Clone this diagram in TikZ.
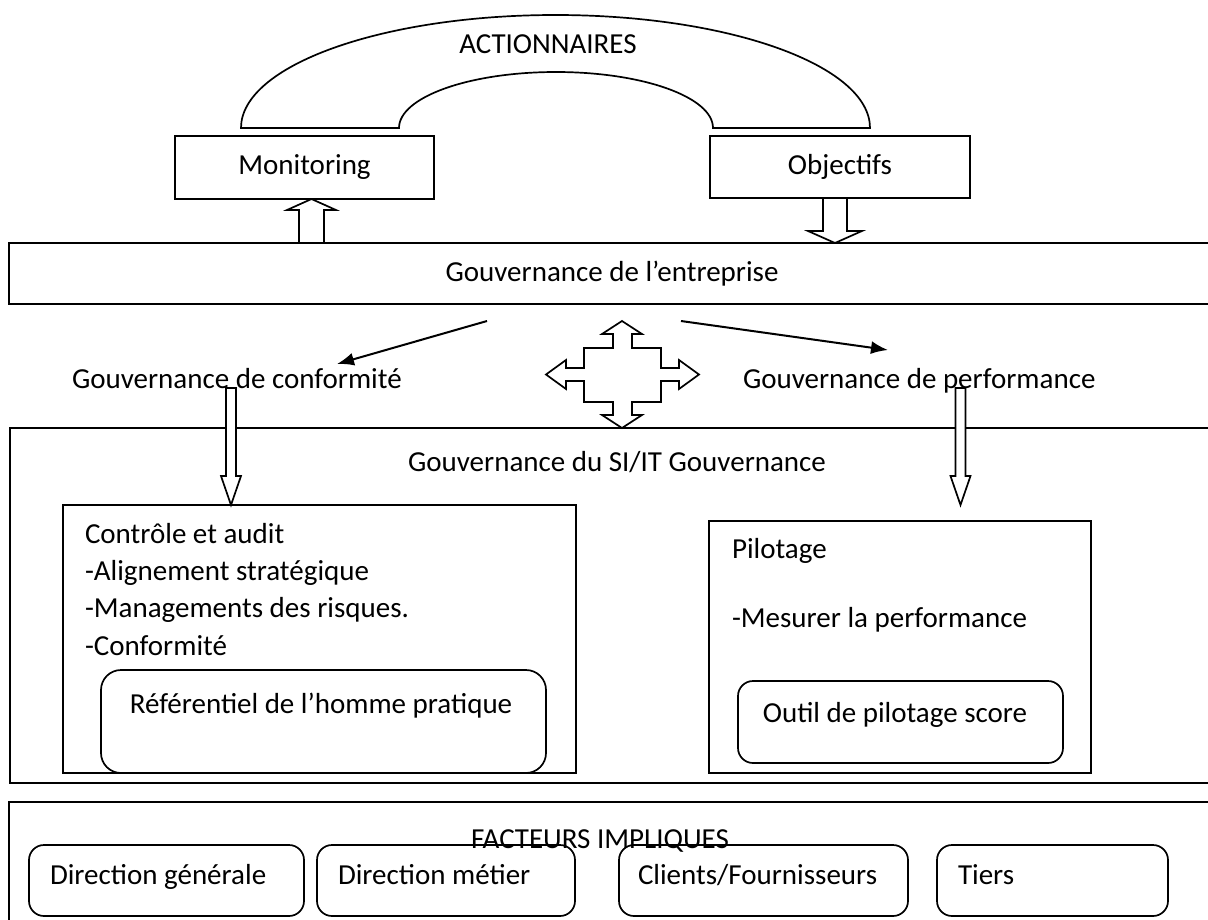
\documentclass[tikz,border=0pt]{standalone}
\usepackage{fontspec}
\setmainfont{Carlito}
\usetikzlibrary{arrows.meta}
\begin{document}
\begin{tikzpicture}[x=1pt,y=-1pt,
  font=\fontsize{29}{35}\selectfont,
  frame/.style={draw, line width=1.7pt, inner sep=0pt, outer sep=0pt},
  rbox/.style={frame, rounded corners=15pt},
  lbl/.style={inner sep=0pt, outer sep=0pt},
  blockarrow/.style={draw, fill=white, line width=1.7pt, line join=miter},
  link/.style={line width=2pt, -{Latex[length=17pt,width=13pt]}}]

\useasboundingbox (0,0) rectangle (1208,919);
\clip (0,0) rectangle (1208,919);

% shareholders arch (y axis points down, so 270 degrees is the top)
\draw[line width=1.7pt] (241,128) -- (399,128)
  arc[start angle=180, end angle=360, x radius=157, y radius=56]
  -- (870,128)
  arc[start angle=360, end angle=180, x radius=314.5, y radius=113] -- cycle;
\node[lbl, anchor=base] (act) at (548,53) {ACTIONNAIRES};

% top boxes
\node[frame, minimum width=259pt, minimum height=63pt] (mon) at (304.5,167.5) {Monitoring};
\node[frame, minimum width=260pt, minimum height=62pt] (obj) at (840,167) {Objectifs};

% corporate governance band
\node[frame, minimum width=1206pt, minimum height=61pt] (gov) at (612,273.5) {Gouvernance de l’entreprise};

% block arrows between the band and the top boxes
\draw[blockarrow] (299,243) -- (299,210) -- (287,210) -- (311.5,199) -- (336,210) -- (324,210) -- (324,243) -- cycle;
\draw[blockarrow] (823,198) -- (823,231) -- (808,231) -- (835,243) -- (862,231) -- (847,231) -- (847,198) -- cycle;

% the two governance branches
\node[lbl, anchor=base west] (conf) at (72,388) {Gouvernance de conformité};
\node[lbl, anchor=base west] (perf) at (743,388) {Gouvernance de performance};
\coordinate (gL) at (487,321);
\coordinate (gR) at (681,321);
\coordinate (confTip) at (337,364);
\coordinate (perfTip) at (888,350);
\draw[link] (gL) -- (confTip);
\draw[link] (gR) -- (perfTip);

% four-way arrow
\draw[blockarrow] (622,321) -- (642,334) -- (632,334) -- (632,348) -- (661,348) -- (661,368)
  -- (679,368) -- (679,360) -- (699,374.5) -- (679,389) -- (679,381) -- (661,381)
  -- (661,402) -- (632,402) -- (632,415) -- (642,415) -- (622,428) -- (602,415)
  -- (613,415) -- (613,402) -- (584,402) -- (584,381) -- (566,381) -- (566,389)
  -- (546,374.5) -- (566,360) -- (566,368) -- (584,368) -- (584,348) -- (613,348)
  -- (613,334) -- (602,334) -- cycle;

% IT governance frame
\node[frame, minimum width=1205pt, minimum height=355pt] (si) at (612.5,605.5) {};
\node[lbl, anchor=base] (sititle) at (617,471) {Gouvernance du SI/IT Gouvernance};

% control and audit
\node[frame, minimum width=513pt, minimum height=268pt] (ctrl) at (319.5,639) {};
\node[lbl, anchor=base west] (c1) at (85,543) {Contrôle et audit};
\node[lbl, anchor=base west] (c2) at (85,580) {-Alignement stratégique};
\node[lbl, anchor=base west] (c3) at (85,617) {-Managements des risques.};
\node[lbl, anchor=base west] (c4) at (85,655) {-Conformité};
\node[rbox, rounded corners=20pt, minimum width=445pt, minimum height=103pt] (ref) at (323.5,721.5) {};
\node[lbl, anchor=base] (reftxt) at (321,713) {Référentiel de l’homme pratique};

% steering
\node[frame, minimum width=382pt, minimum height=252pt] (pil) at (900,647) {};
\node[lbl, anchor=base west] (p1) at (732,558) {Pilotage};
\node[lbl, anchor=base west] (p2) at (732,627) {-Mesurer la performance};
\node[rbox, minimum width=325pt, minimum height=82pt] (outil) at (900.5,722) {};
\node[lbl, anchor=base] (outiltxt) at (895,722) {Outil de pilotage score};

% thin block arrows into the two boxes
\draw[blockarrow] (226,388) -- (226,476) -- (221,476) -- (231,505) -- (241,476) -- (236,476) -- (236,388) -- cycle;
\draw[blockarrow] (955.5,388) -- (955.5,476) -- (950.5,476) -- (960.5,505) -- (970.5,476) -- (965.5,476) -- (965.5,388) -- cycle;

% stakeholders
\node[frame, minimum width=1206pt, minimum height=123pt] (fact) at (612,863.5) {};
\node[lbl, anchor=base] (facttxt) at (600,848) {FACTEURS IMPLIQUES};
\node[rbox, minimum width=275pt, minimum height=71pt] (d1) at (166.5,880.5) {};
\node[rbox, minimum width=258pt, minimum height=71pt] (d2) at (446,880.5) {};
\node[rbox, minimum width=289pt, minimum height=71pt] (d3) at (763.5,880.5) {};
\node[rbox, minimum width=231pt, minimum height=71pt] (d4) at (1052.5,880.5) {};
\node[lbl, anchor=base west] (t1) at (50,884) {Direction générale};
\node[lbl, anchor=base west] (t2) at (338,884) {Direction métier};
\node[lbl, anchor=base west] (t3) at (638,884) {Clients/Fournisseurs};
\node[lbl, anchor=base west] (t4) at (958,884) {Tiers};
\end{tikzpicture}
\end{document}
